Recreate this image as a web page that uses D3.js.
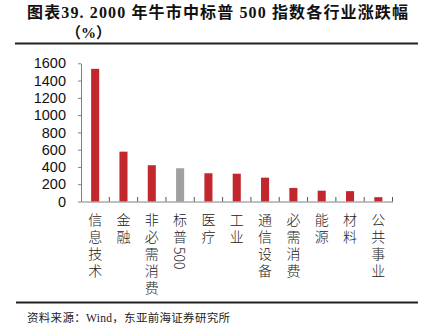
<!DOCTYPE html>
<html><head><meta charset="utf-8">
<script src="https://cdn.jsdelivr.net/npm/d3@7/dist/d3.min.js"></script>
<style>
html,body{margin:0;padding:0;background:#fff;}
svg{display:block;}
</style></head>
<body>
<svg id="chart" width="430" height="335"></svg>
<script>
const categories = ["信息技术","金融","非必需消费","标普500","医疗","工业","通信设备","必需消费","能源","材料","公共事业"];
const values = [1536, 577, 420, 385, 327, 322, 276, 157, 125, 120, 50];
const highlight = ["标普500"];
const yTicks = [0,200,400,600,800,1000,1200,1400,1600];
const titleLine1 = "图表39. 2000 年牛市中标普 500 指数各行业涨跌幅";
const titleLine2 = "（%）";
const sourceText = "资料来源：Wind，东亚前海证券研究所";

const svg = d3.select("#chart");
const plotLeft = 81, plotRight = 392.5, plotTop = 63.3, plotBottom = 201.5;

const x = d3.scaleBand().domain(categories).range([plotLeft, plotRight]).paddingInner(0.715).paddingOuter(0.3575);
const y = d3.scaleLinear().domain([0, 1600]).range([plotBottom, plotTop]);

// title
svg.append("text").attr("x", 27).attr("y", 18)
  .attr("font-family", "'Liberation Serif','Noto Sans CJK SC',serif")
  .attr("font-weight", "bold").attr("font-size", 16).attr("fill", "#111")
  .attr("textLength", 381).attr("lengthAdjust", "spacing")
  .text(titleLine1);
svg.append("text").attr("x", 66).attr("y", 38)
  .attr("font-family", "'Liberation Serif','Noto Sans CJK SC',serif")
  .attr("font-weight", "bold").attr("font-size", 15).attr("fill", "#111")
  .text(titleLine2);
svg.append("line").attr("x1", 15).attr("x2", 418).attr("y1", 43.5).attr("y2", 43.5)
  .attr("stroke", "#222").attr("stroke-width", 2);

// bars
svg.append("g").selectAll("rect").data(categories).join("rect")
  .attr("x", d => x(d))
  .attr("width", x.bandwidth())
  .attr("y", (d, i) => y(values[i]))
  .attr("height", (d, i) => y(0) - y(values[i]))
  .attr("fill", d => highlight.includes(d) ? "#A0A0A0" : "#C1272D");

// y axis
const yAxis = svg.append("g").attr("transform", `translate(${plotLeft},0)`)
  .call(d3.axisLeft(y).tickValues(yTicks).tickSize(3).tickSizeOuter(0).tickPadding(12).tickFormat(d3.format("d")));
yAxis.select(".domain").attr("stroke", "#808080");
yAxis.selectAll(".tick line").attr("stroke", "#808080");
yAxis.selectAll("text").attr("font-family", "'Liberation Sans',Arial,sans-serif").attr("font-size", 14.5).attr("fill", "#111");

// x axis
const xAxis = svg.append("g").attr("transform", `translate(0,${plotBottom})`)
  .call(d3.axisBottom(x).tickSize(0).tickSizeOuter(0).tickPadding(11));
xAxis.select(".domain").attr("stroke", "#808080");
xAxis.selectAll(".tick text")
  .attr("font-family", "'Noto Sans CJK SC',sans-serif").attr("font-size", 14).attr("font-weight", 300).attr("fill", "#222")
  .attr("dy", null).attr("y", 11.5)
  .style("writing-mode", "vertical-rl")
  .attr("text-anchor", "start")
  .each(function(d) {
    const t = d3.select(this);
    t.text(null);
    const runs = d.match(/[\u3000-\u9fff]+|[^\u3000-\u9fff]+/g);
    runs.forEach(r => {
      const cjk = /[\u3000-\u9fff]/.test(r);
      t.append("tspan").style("letter-spacing", cjk ? "3px" : "0px").text(r);
    });
  });

// category boundary ticks
const step = x.step();
const bounds = categories.map(d => x(d) - (step - x.bandwidth()) / 2).slice(1).concat([plotRight]);
svg.append("g").selectAll("line").data(bounds).join("line")
  .attr("x1", d => d).attr("x2", d => d)
  .attr("y1", plotBottom).attr("y2", plotBottom - 4.5)
  .attr("stroke", "#555").attr("stroke-width", 1);

// footer
svg.append("line").attr("x1", 16).attr("x2", 418).attr("y1", 302.5).attr("y2", 302.5)
  .attr("stroke", "#222").attr("stroke-width", 2);
svg.append("text").attr("x", 27).attr("y", 322)
  .attr("font-family", "'Liberation Serif','Noto Sans CJK SC',serif")
  .attr("font-size", 11.5).attr("fill", "#222")
  .attr("textLength", 203).attr("lengthAdjust", "spacing")
  .text(sourceText);
</script>
</body></html>
